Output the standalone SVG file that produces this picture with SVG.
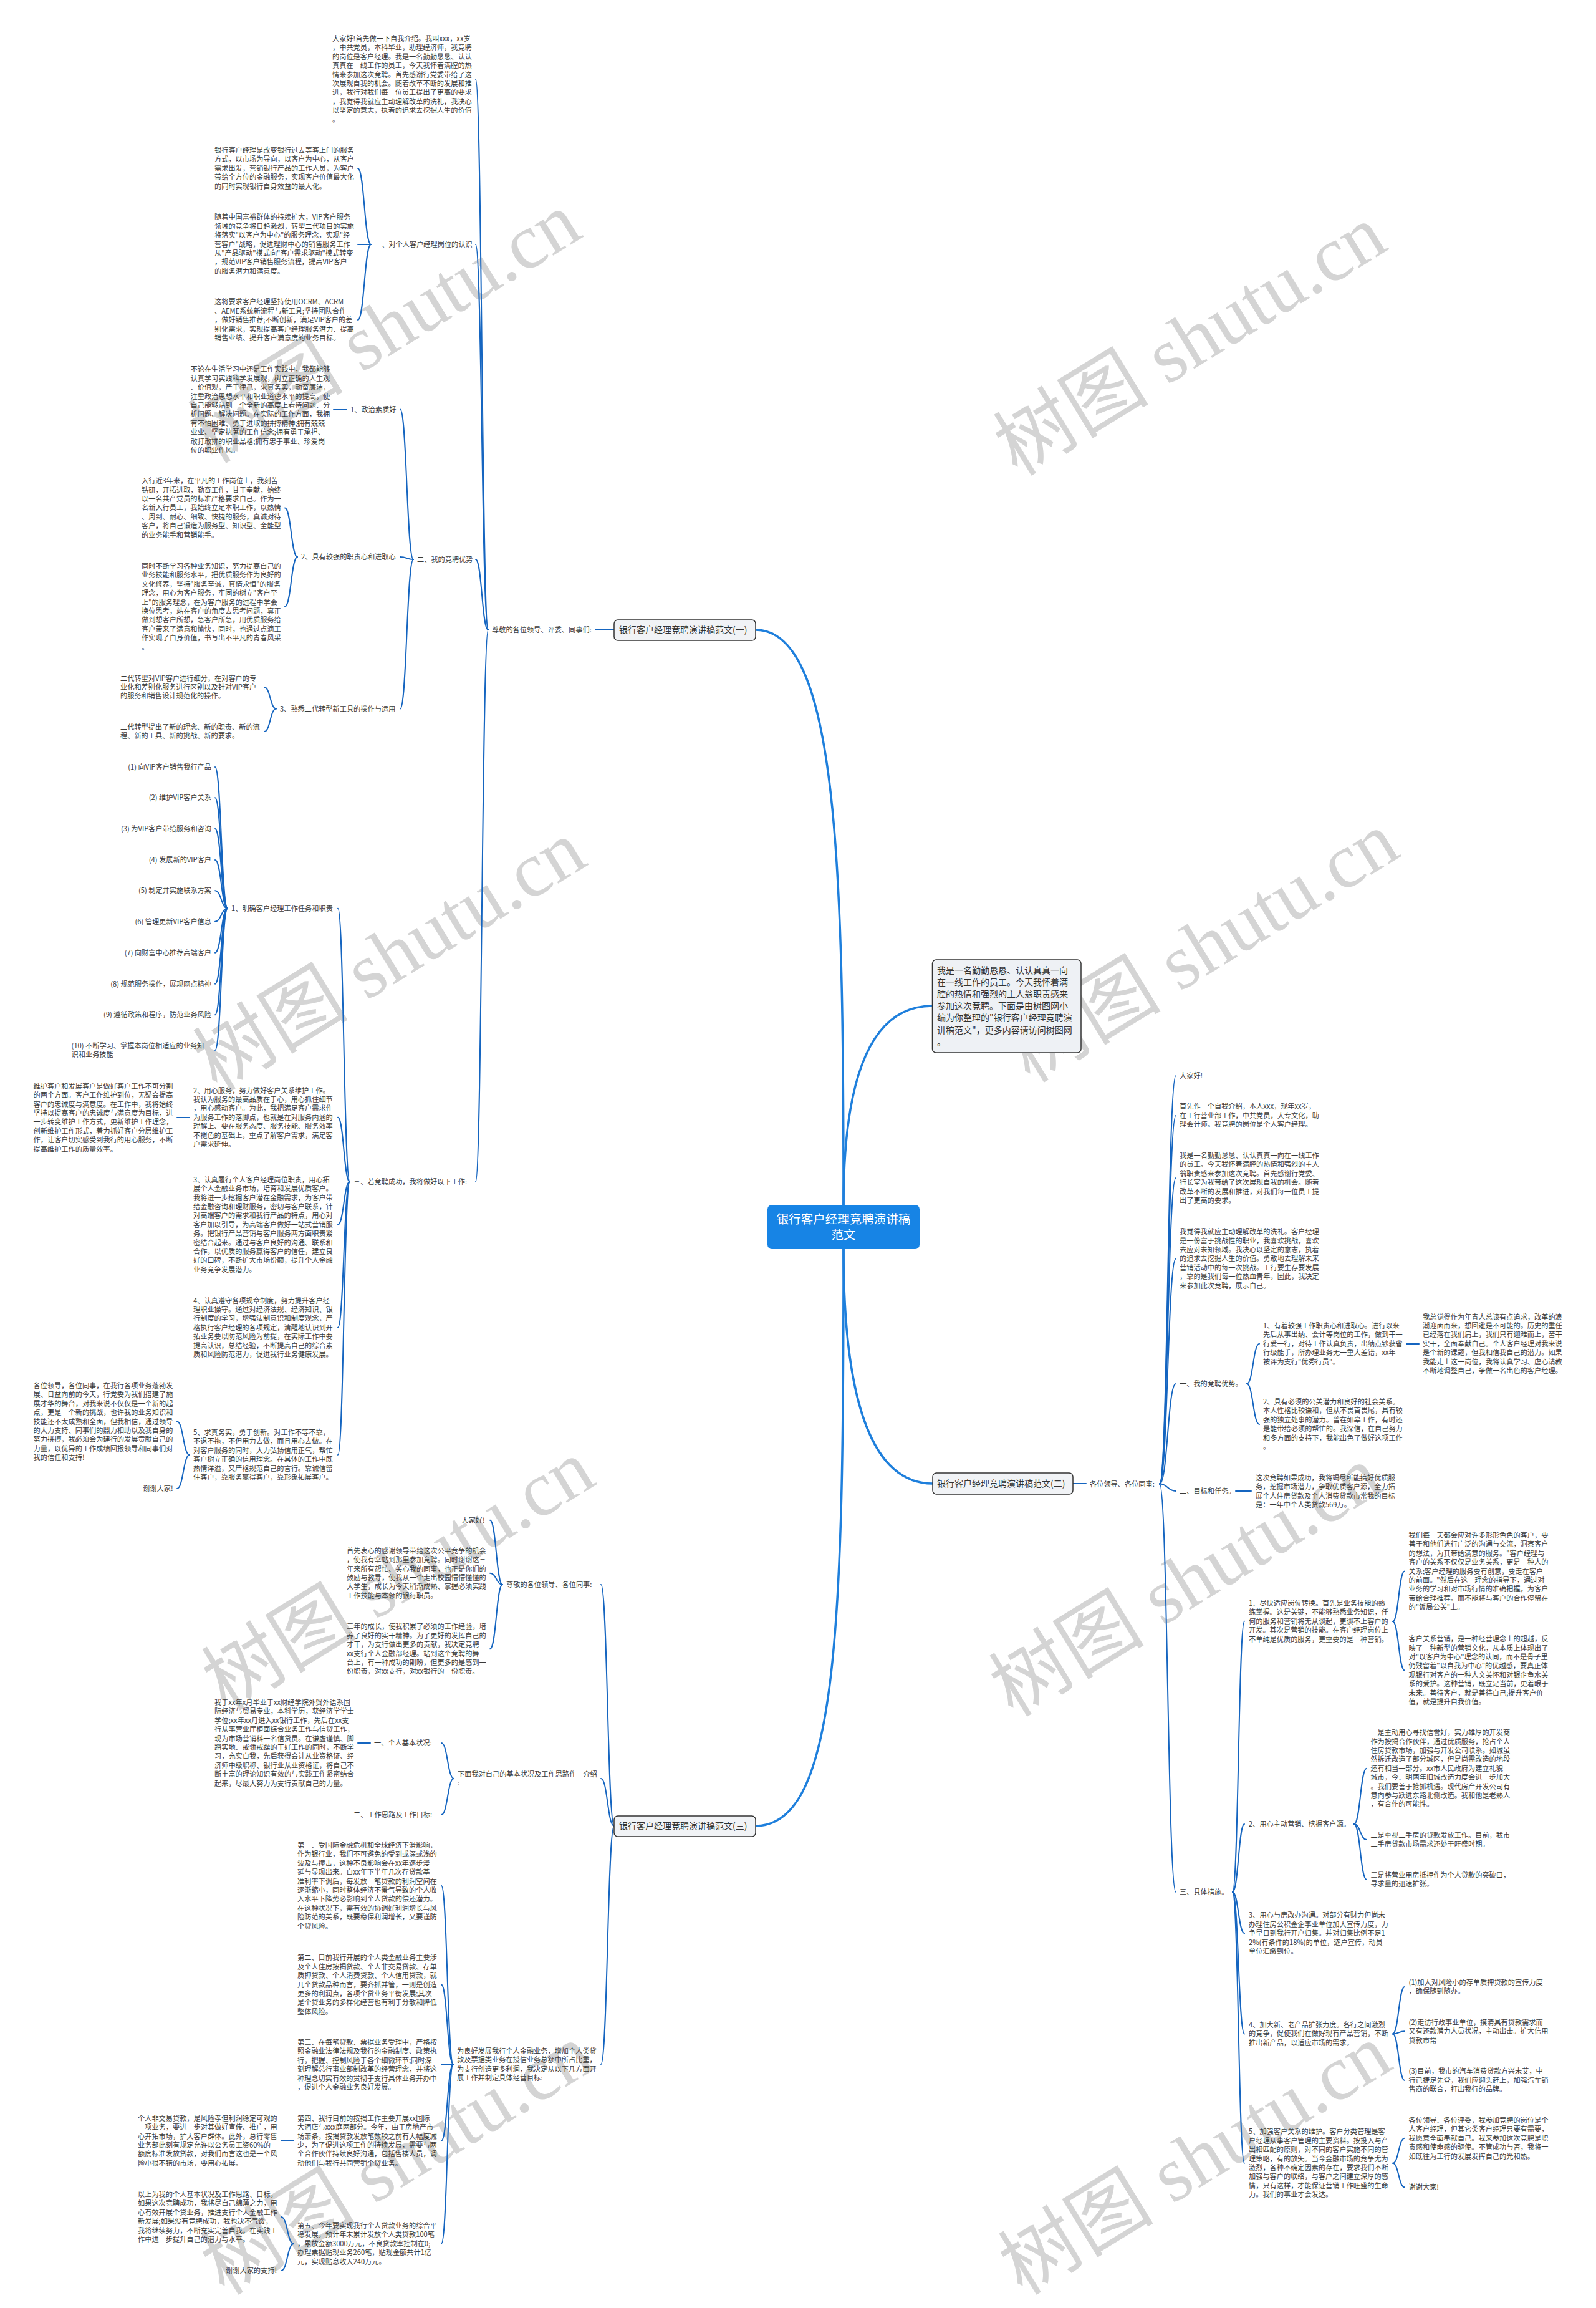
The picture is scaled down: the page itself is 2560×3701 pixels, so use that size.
<svg xmlns="http://www.w3.org/2000/svg" width="2560" height="3701" viewBox="0 0 2560 3701">
<style>
.t{font-family:"Noto Sans CJK SC","Noto Sans",sans-serif;font-size:11.2px;fill:#3a3a3a}
.e{text-anchor:end}
.b{font-family:"Noto Sans CJK SC","Noto Sans",sans-serif;font-size:14px;fill:#333}
.box{fill:#f1f3f6;stroke:#333;stroke-width:1.5}
.c{fill:none;stroke:#1565c0;stroke-width:2;stroke-linecap:round}
.r{fill:none;stroke:#1e7fdc;stroke-width:3.5;stroke-linecap:round}
.wm{font-family:"Liberation Serif","Noto Sans CJK SC",serif;font-size:125px;fill:#d4d4d4}
</style>
<rect width="2560" height="3701" fill="#ffffff"/>
<g id="watermarks" class="wm">
<text transform="translate(340,745) rotate(-31.5)">树图 shutu.cn</text>
<text transform="translate(1632,765) rotate(-31.5)">树图 shutu.cn</text>
<text transform="translate(348,1752) rotate(-31.5)">树图 shutu.cn</text>
<text transform="translate(1652,1738) rotate(-31.5)">树图 shutu.cn</text>
<text transform="translate(362,2745) rotate(-31.5)">树图 shutu.cn</text>
<text transform="translate(1625,2755) rotate(-31.5)">树图 shutu.cn</text>
<text transform="translate(360,3682) rotate(-31.5)">树图 shutu.cn</text>
<text transform="translate(1640,3682) rotate(-31.5)">树图 shutu.cn</text>
</g>
<g id="connectors">
<path class="r" d="M1353,1932 C1353,1400 1345,1010 1212,1010"/>
<path class="r" d="M1353,1932 C1353,1720 1400,1613 1495,1613"/>
<path class="r" d="M1353,2003 C1353,2250 1400,2379 1496,2379"/>
<path class="r" d="M1353,2003 C1353,2600 1345,2928 1212,2928"/>
<path class="c" d="M985,1010 L955,1010"/>
<path class="c" d="M1721,2379 L1742,2379"/>
<path class="c" d="M783,1010 C773,1010 773,127 763,127"/>
<path class="c" d="M783,1010 C773,1010 773,392 763,392"/>
<path class="c" d="M783,1010 C773,1010 773,897 763,897"/>
<path class="c" d="M783,1010 C773,1010 773,1895 763,1895"/>
<path class="c" d="M595,392 C584.5,392 584.5,270 574,270"/>
<path class="c" d="M595,392 L574,392"/>
<path class="c" d="M595,392 C584.5,392 584.5,513 574,513"/>
<path class="c" d="M663,897 C652.5,897 652.5,656.5 642,656.5"/>
<path class="c" d="M663,897 C652.5,897 652.5,893 642,893"/>
<path class="c" d="M663,897 C652.5,897 652.5,1136.5 642,1136.5"/>
<path class="c" d="M556,657 L535,657"/>
<path class="c" d="M477,893 C467,893 467,814.4 457,814.4"/>
<path class="c" d="M477,893 C467,893 467,972.8 457,972.8"/>
<path class="c" d="M443,1136.5 C433.5,1136.5 433.5,1102 424,1102"/>
<path class="c" d="M443,1136.5 C433.5,1136.5 433.5,1173 424,1173"/>
<path class="c" d="M561,1895 C551.5,1895 551.5,1456.7 542,1456.7"/>
<path class="c" d="M561,1895 C551.5,1895 551.5,1791.7 542,1791.7"/>
<path class="c" d="M561,1895 C551.5,1895 551.5,1963.8 542,1963.8"/>
<path class="c" d="M561,1895 C551.5,1895 551.5,2128.7 542,2128.7"/>
<path class="c" d="M561,1895 C551.5,1895 551.5,2333 542,2333"/>
<path class="c" d="M365,1456.7 C355,1456.7 355,1230 345,1230"/>
<path class="c" d="M365,1456.7 C355,1456.7 355,1279.3 345,1279.3"/>
<path class="c" d="M365,1456.7 C355,1456.7 355,1329 345,1329"/>
<path class="c" d="M365,1456.7 C355,1456.7 355,1379 345,1379"/>
<path class="c" d="M365,1456.7 C355,1456.7 355,1428.3 345,1428.3"/>
<path class="c" d="M365,1456.7 C355,1456.7 355,1477.7 345,1477.7"/>
<path class="c" d="M365,1456.7 C355,1456.7 355,1527.7 345,1527.7"/>
<path class="c" d="M365,1456.7 C355,1456.7 355,1577.7 345,1577.7"/>
<path class="c" d="M365,1456.7 C355,1456.7 355,1627.3 345,1627.3"/>
<path class="c" d="M365,1456.7 C355,1456.7 355,1684 345,1684"/>
<path class="c" d="M304,1792 L284,1792"/>
<path class="c" d="M304,2333 C294,2333 294,2279.6 284,2279.6"/>
<path class="c" d="M304,2333 C294,2333 294,2387 284,2387"/>
<path class="c" d="M985,2928 C974.5,2928 974.5,2541 964,2541"/>
<path class="c" d="M985,2928 C974.5,2928 974.5,2852 964,2852"/>
<path class="c" d="M985,2928 C974.5,2928 974.5,3310 964,3310"/>
<path class="c" d="M806,2541 C796,2541 796,2437.7 786,2437.7"/>
<path class="c" d="M806,2541 C796,2541 796,2522.7 786,2522.7"/>
<path class="c" d="M806,2541 C796,2541 796,2644.3 786,2644.3"/>
<path class="c" d="M728,2852 C718,2852 718,2795 708,2795"/>
<path class="c" d="M728,2852 C718,2852 718,2910 708,2910"/>
<path class="c" d="M594,2795 L574,2795"/>
<path class="c" d="M727,3310 C717.5,3310 717.5,3023.8 708,3023.8"/>
<path class="c" d="M727,3310 C717.5,3310 717.5,3182.6 708,3182.6"/>
<path class="c" d="M727,3310 C717.5,3310 717.5,3311 708,3311"/>
<path class="c" d="M727,3310 C717.5,3310 717.5,3432.8 708,3432.8"/>
<path class="c" d="M727,3310 C717.5,3310 717.5,3597.7 708,3597.7"/>
<path class="c" d="M471,3433 L451,3433"/>
<path class="c" d="M471,3598 C461,3598 461,3555 451,3555"/>
<path class="c" d="M471,3598 C461,3598 461,3641 451,3641"/>
<path class="c" d="M1860,2379.6 C1873,2379.6 1873,1725 1886,1725"/>
<path class="c" d="M1860,2379.6 C1873,2379.6 1873,1789 1886,1789"/>
<path class="c" d="M1860,2379.6 C1873,2379.6 1873,1889 1886,1889"/>
<path class="c" d="M1860,2379.6 C1873,2379.6 1873,2018.4 1886,2018.4"/>
<path class="c" d="M1860,2379.6 C1873,2379.6 1873,2219 1886,2219"/>
<path class="c" d="M1860,2379.6 C1873,2379.6 1873,2391 1886,2391"/>
<path class="c" d="M1860,2379.6 C1873,2379.6 1873,3034 1886,3034"/>
<path class="c" d="M2000,2219 C2010,2219 2010,2154.8 2020,2154.8"/>
<path class="c" d="M2000,2219 C2010,2219 2010,2284 2020,2284"/>
<path class="c" d="M2256,2155 L2276,2155"/>
<path class="c" d="M1982,2391 L2007,2391"/>
<path class="c" d="M1977,3034 C1986.5,3034 1986.5,2599.8 1996,2599.8"/>
<path class="c" d="M1977,3034 C1986.5,3034 1986.5,2925 1996,2925"/>
<path class="c" d="M1977,3034 C1986.5,3034 1986.5,3100.2 1996,3100.2"/>
<path class="c" d="M1977,3034 C1986.5,3034 1986.5,3261.4 1996,3261.4"/>
<path class="c" d="M1977,3034 C1986.5,3034 1986.5,3468.8 1996,3468.8"/>
<path class="c" d="M2234,2600 C2243.5,2600 2243.5,2519.6 2253,2519.6"/>
<path class="c" d="M2234,2600 C2243.5,2600 2243.5,2678.6 2253,2678.6"/>
<path class="c" d="M2172,2925 C2182,2925 2182,2835.8 2192,2835.8"/>
<path class="c" d="M2172,2925 C2182,2925 2182,2950 2192,2950"/>
<path class="c" d="M2172,2925 C2182,2925 2182,3014 2192,3014"/>
<path class="c" d="M2234,3261.4 C2243.5,3261.4 2243.5,3186 2253,3186"/>
<path class="c" d="M2234,3261.4 C2243.5,3261.4 2243.5,3257.3 2253,3257.3"/>
<path class="c" d="M2234,3261.4 C2243.5,3261.4 2243.5,3336 2253,3336"/>
<path class="c" d="M2234,3468.8 C2243.5,3468.8 2243.5,3428.8 2253,3428.8"/>
<path class="c" d="M2234,3468.8 C2243.5,3468.8 2243.5,3507.3 2253,3507.3"/>
</g>

<g id="root">
<rect x="1231" y="1932" width="244" height="71" rx="7" fill="#1784e5"/>
<text x="1353" y="1962" text-anchor="middle" font-family="Noto Sans CJK SC, sans-serif" font-size="19.5" fill="#fff">银行客户经理竞聘演讲稿</text>
<text x="1353" y="1987" text-anchor="middle" font-family="Noto Sans CJK SC, sans-serif" font-size="19.5" fill="#fff">范文</text>
</g>

<g id="intro">
<rect x="1495.5" y="1539" width="238.5" height="149" rx="6" fill="#eef1f5" stroke="#333" stroke-width="1.5"/>
<text class="b" font-size="14.3" x="1503" y="1561"><tspan x="1503">我是一名勤勤恳恳、认认真真一向</tspan><tspan x="1503" dy="19.1">在一线工作的员工。今天我怀着满</tspan><tspan x="1503" dy="19.1">腔的热情和强烈的主人翁职责感来</tspan><tspan x="1503" dy="19.1">参加这次竞聘。下面是由树图网小</tspan><tspan x="1503" dy="19.1">编为你整理的"银行客户经理竞聘演</tspan><tspan x="1503" dy="19.1">讲稿范文"，更多内容请访问树图网</tspan><tspan x="1503" dy="19.1">。</tspan></text>
</g>

<g id="branch1">
<rect class="box" x="985" y="994" width="227" height="33" rx="6"/>
<text class="b" x="993" y="1015">银行客户经理竞聘演讲稿范文(一)</text>
</g>
<g id="branch2">
<rect class="box" x="1496" y="2362" width="225" height="34" rx="6"/>
<text class="b" x="1503" y="2384">银行客户经理竞聘演讲稿范文(二)</text>
</g>
<g id="branch3">
<rect class="box" x="985" y="2912" width="227" height="33" rx="6"/>
<text class="b" x="993" y="2933">银行客户经理竞聘演讲稿范文(三)</text>
</g>

<g id="b1-greet"><text class="t" x="789" y="1014">尊敬的各位领导、评委、同事们:</text></g>
<g id="b1-intro"><text class="t" x="533" y="66"><tspan x="533">大家好!首先做一下自我介绍。我叫xxx，xx岁</tspan><tspan x="533" dy="14.4">，中共党员，本科毕业，助理经济师，我竞聘</tspan><tspan x="533" dy="14.4">的岗位是客户经理。我是一名勤勤恳恳、认认</tspan><tspan x="533" dy="14.4">真真在一线工作的员工，今天我怀着满腔的热</tspan><tspan x="533" dy="14.4">情来参加这次竞聘。首先感谢行党委带给了这</tspan><tspan x="533" dy="14.4">次展现自我的机会。随着改革不断的发展和推</tspan><tspan x="533" dy="14.4">进，我行对我们每一位员工提出了更高的要求</tspan><tspan x="533" dy="14.4">，我觉得我就应主动理解改革的洗礼，我决心</tspan><tspan x="533" dy="14.4">以坚定的意志，执着的追求去挖掘人生的价值</tspan><tspan x="533" dy="14.4">。</tspan></text></g>
<g id="b1-s1"><text class="t" x="601" y="396">一、对个人客户经理岗位的认识</text></g>
<g id="b1-s1a"><text class="t" x="344" y="245"><tspan x="344">银行客户经理是改变银行过去等客上门的服务</tspan><tspan x="344" dy="14.4">方式，以市场为导向，以客户为中心，从客户</tspan><tspan x="344" dy="14.4">需求出发，营销银行产品的工作人员，为客户</tspan><tspan x="344" dy="14.4">带给全方位的金融服务，实现客户价值最大化</tspan><tspan x="344" dy="14.4">的同时实现银行自身效益的最大化。</tspan></text></g>
<g id="b1-s1b"><text class="t" x="344" y="352.3"><tspan x="344">随着中国富裕群体的持续扩大，VIP客户服务</tspan><tspan x="344" dy="14.4">领域的竞争将日趋激烈，转型二代项目的实施</tspan><tspan x="344" dy="14.4">将落实"以客户为中心"的服务理念，实现"经</tspan><tspan x="344" dy="14.4">营客户"战略，促进理财中心的销售服务工作</tspan><tspan x="344" dy="14.4">从"产品驱动"模式向"客户需求驱动"模式转变</tspan><tspan x="344" dy="14.4">，规范VIP客户销售服务流程，提高VIP客户</tspan><tspan x="344" dy="14.4">的服务潜力和满意度。</tspan></text></g>
<g id="b1-s1c"><text class="t" x="344" y="488.3"><tspan x="344">这将要求客户经理坚持使用OCRM、ACRM</tspan><tspan x="344" dy="14.4">、AEME系统新流程与新工具;坚持团队合作</tspan><tspan x="344" dy="14.4">，做好销售推荐;不断创新，满足VIP客户的差</tspan><tspan x="344" dy="14.4">别化需求，实现提高客户经理服务潜力、提高</tspan><tspan x="344" dy="14.4">销售业绩、提升客户满意度的业务目标。</tspan></text></g>
<g id="b1-s2"><text class="t" x="669" y="901">二、我的竞聘优势</text></g>
<g id="b1-s2-1"><text class="t" x="562" y="660.5">1、政治素质好</text></g>
<g id="b1-s2-1a"><text class="t" x="305.5" y="596.4"><tspan x="305.5">不论在生活学习中还是工作实践中，我都能够</tspan><tspan x="305.5" dy="14.4">认真学习实践科学发展观，树立正确的人生观</tspan><tspan x="305.5" dy="14.4">、价值观，严于律己，求真务实，勤奋廉洁，</tspan><tspan x="305.5" dy="14.4">注重政治思想水平和职业道德水平的提高，使</tspan><tspan x="305.5" dy="14.4">自己能够站到一个全新的高度上看待问题、分</tspan><tspan x="305.5" dy="14.4">析问题、解决问题。在实际的工作方面，我拥</tspan><tspan x="305.5" dy="14.4">有不怕困难、勇于进取的拼搏精神;拥有兢兢</tspan><tspan x="305.5" dy="14.4">业业、坚定执著的工作信念;拥有勇于承担、</tspan><tspan x="305.5" dy="14.4">敢打敢拼的职业品格;拥有忠于事业、珍爱岗</tspan><tspan x="305.5" dy="14.4">位的职业作风。</tspan></text></g>
<g id="b1-s2-2"><text class="t" x="483" y="897">2、具有较强的职责心和进取心</text></g>
<g id="b1-s2-2a"><text class="t" x="227" y="775.2"><tspan x="227">入行近3年来，在平凡的工作岗位上，我刻苦</tspan><tspan x="227" dy="14.4">钻研，开拓进取，勤奋工作，甘于奉献，始终</tspan><tspan x="227" dy="14.4">以一名共产党员的标准严格要求自己。作为一</tspan><tspan x="227" dy="14.4">名新入行员工，我始终立足本职工作，以热情</tspan><tspan x="227" dy="14.4">、周到、耐心、细致、快捷的服务，真诚对待</tspan><tspan x="227" dy="14.4">客户，将自己锻造为服务型、知识型、全能型</tspan><tspan x="227" dy="14.4">的业务能手和营销能手。</tspan></text></g>
<g id="b1-s2-2b"><text class="t" x="227" y="912"><tspan x="227">同时不断学习各种业务知识，努力提高自己的</tspan><tspan x="227" dy="14.4">业务技能和服务水平，把优质服务作为良好的</tspan><tspan x="227" dy="14.4">文化修养，坚持"服务至诚，真情永恒"的服务</tspan><tspan x="227" dy="14.4">理念，用心为客户服务，牢固的树立"客户至</tspan><tspan x="227" dy="14.4">上"的服务理念，在为客户服务的过程中学会</tspan><tspan x="227" dy="14.4">换位思考，站在客户的角度去思考问题，真正</tspan><tspan x="227" dy="14.4">做到想客户所想，急客户所急，用优质服务给</tspan><tspan x="227" dy="14.4">客户带来了满意和愉快，同时，也通过点滴工</tspan><tspan x="227" dy="14.4">作实现了自身价值，书写出不平凡的青春风采</tspan><tspan x="227" dy="14.4">。</tspan></text></g>
<g id="b1-s2-3"><text class="t" x="449" y="1140.5">3、熟悉二代转型新工具的操作与运用</text></g>
<g id="b1-s2-3a"><text class="t" x="193" y="1091.6"><tspan x="193">二代转型对VIP客户进行细分，在对客户的专</tspan><tspan x="193" dy="14.4">业化和差别化服务进行区别以及针对VIP客户</tspan><tspan x="193" dy="14.4">的服务和销售设计规范化的操作。</tspan></text></g>
<g id="b1-s2-3b"><text class="t" x="193" y="1170"><tspan x="193">二代转型提出了新的理念、新的职责、新的流</tspan><tspan x="193" dy="14.4">程、新的工具、新的挑战、新的要求。</tspan></text></g>
<g id="b1-s3"><text class="t" x="567" y="1899">三、若竞聘成功，我将做好以下工作:</text></g>
<g id="b1-s3-1"><text class="t" x="371" y="1460.7">1、明确客户经理工作任务和职责</text></g>
<g id="b1-s3-1-items">
<text class="t e" x="339" y="1234">(1) 向VIP客户销售我行产品</text>
<text class="t e" x="339" y="1283.3">(2) 维护VIP客户关系</text>
<text class="t e" x="339" y="1333">(3) 为VIP客户带给服务和咨询</text>
<text class="t e" x="339" y="1383">(4) 发展新的VIP客户</text>
<text class="t e" x="339" y="1432.3">(5) 制定并实施联系方案</text>
<text class="t e" x="339" y="1481.7">(6) 管理更新VIP客户信息</text>
<text class="t e" x="339" y="1531.7">(7) 向财富中心推荐高端客户</text>
<text class="t e" x="339" y="1581.7">(8) 规范服务操作，展现网点精神</text>
<text class="t e" x="339" y="1631.3">(9) 遵循政策和程序，防范业务风险</text>
<text class="t" x="114.6" y="1681"><tspan x="114.6">(10) 不断学习、掌握本岗位相适应的业务知</tspan><tspan x="114.6" dy="14.4">识和业务技能</tspan></text>
</g>
<g id="b1-s3-2"><text class="t" x="310" y="1752.5"><tspan x="310">2、用心服务，努力做好客户关系维护工作。</tspan><tspan x="310" dy="14.4">我认为服务的最高品质在于心，用心抓住细节</tspan><tspan x="310" dy="14.4">，用心感动客户。为此，我把满足客户需求作</tspan><tspan x="310" dy="14.4">为服务工作的落脚点，也就是在对服务内涵的</tspan><tspan x="310" dy="14.4">理解上、要在服务态度、服务技能、服务效率</tspan><tspan x="310" dy="14.4">不褪色的基础上，重点了解客户需求，满足客</tspan><tspan x="310" dy="14.4">户需求延伸。</tspan></text></g>
<g id="b1-s3-2a"><text class="t" x="53.6" y="1745.8"><tspan x="53.6">维护客户和发展客户是做好客户工作不可分割</tspan><tspan x="53.6" dy="14.4">的两个方面。客户工作维护到位，无疑会提高</tspan><tspan x="53.6" dy="14.4">客户的忠诚度与满意度。在工作中，我将始终</tspan><tspan x="53.6" dy="14.4">坚持以提高客户的忠诚度与满意度为目标，进</tspan><tspan x="53.6" dy="14.4">一步转变维护工作方式，更新维护工作理念，</tspan><tspan x="53.6" dy="14.4">创新维护工作形式，着力抓好客户分层维护工</tspan><tspan x="53.6" dy="14.4">作，让客户切实感受到我行的用心服务，不断</tspan><tspan x="53.6" dy="14.4">提高维护工作的质量效率。</tspan></text></g>
<g id="b1-s3-3"><text class="t" x="310" y="1895.8"><tspan x="310">3、认真履行个人客户经理岗位职责，用心拓</tspan><tspan x="310" dy="14.4">展个人金融业务市场，培育和发展优质客户。</tspan><tspan x="310" dy="14.4">我将进一步挖掘客户潜在金融需求，为客户带</tspan><tspan x="310" dy="14.4">给金融咨询和理财服务，密切与客户联系，针</tspan><tspan x="310" dy="14.4">对高端客户的需求和我行产品的特点，用心对</tspan><tspan x="310" dy="14.4">客户加以引导，为高端客户做好一站式营销服</tspan><tspan x="310" dy="14.4">务。把银行产品营销与客户服务两方面职责紧</tspan><tspan x="310" dy="14.4">密结合起来。通过与客户良好的沟通、联系和</tspan><tspan x="310" dy="14.4">合作，以优质的服务赢得客户的信任，建立良</tspan><tspan x="310" dy="14.4">好的口碑，不断扩大市场份额，提升个人金融</tspan><tspan x="310" dy="14.4">业务竞争发展潜力。</tspan></text></g>
<g id="b1-s3-4"><text class="t" x="310" y="2089.5"><tspan x="310">4、认真遵守各项规章制度，努力提升客户经</tspan><tspan x="310" dy="14.4">理职业操守。通过对经济法规、经济知识、银</tspan><tspan x="310" dy="14.4">行制度的学习，增强法制意识和制度观念，严</tspan><tspan x="310" dy="14.4">格执行客户经理的各项规定，清醒地认识到开</tspan><tspan x="310" dy="14.4">拓业务要以防范风险为前提，在实际工作中要</tspan><tspan x="310" dy="14.4">提高认识，总结经验，不断提高自己的综合素</tspan><tspan x="310" dy="14.4">质和风险防范潜力，促进我行业务健康发展。</tspan></text></g>
<g id="b1-s3-5"><text class="t" x="310" y="2301"><tspan x="310">5、求真务实，勇于创新。对工作不等不靠，</tspan><tspan x="310" dy="14.4">不退不拖，不但用力去做，而且用心去做。在</tspan><tspan x="310" dy="14.4">对客户服务的同时，大力弘扬信用正气，帮忙</tspan><tspan x="310" dy="14.4">客户树立正确的信用理念。在具体的工作中既</tspan><tspan x="310" dy="14.4">热情洋溢，又严格规范自己的言行。靠诚信留</tspan><tspan x="310" dy="14.4">住客户，靠服务赢得客户，靠形象拓展客户。</tspan></text></g>
<g id="b1-s3-5a"><text class="t" x="53.6" y="2226"><tspan x="53.6">各位领导，各位同事，在我行各项业务蓬勃发</tspan><tspan x="53.6" dy="14.4">展、日益向前的今天，行党委为我们搭建了施</tspan><tspan x="53.6" dy="14.4">展才华的舞台，对我来说不仅仅是一个新的起</tspan><tspan x="53.6" dy="14.4">点，更是一个新的挑战，也许我的业务知识和</tspan><tspan x="53.6" dy="14.4">技能还不太成熟和全面，但我相信，通过领导</tspan><tspan x="53.6" dy="14.4">的大力支持、同事们的鼎力相助以及我自身的</tspan><tspan x="53.6" dy="14.4">努力拼搏，我必须会为建行的发展贡献自己的</tspan><tspan x="53.6" dy="14.4">力量，以优异的工作成绩回报领导和同事们对</tspan><tspan x="53.6" dy="14.4">我的信任和支持!</tspan></text></g>
<g id="b1-s3-5b"><text class="t e" x="277.5" y="2391">谢谢大家!</text></g>

<g id="b3-greet"><text class="t" x="812" y="2545">尊敬的各位领导、各位同事:</text></g>
<g id="b3-g1"><text class="t e" x="777.5" y="2441.7">大家好!</text></g>
<g id="b3-g2"><text class="t" x="556" y="2490.7"><tspan x="556">首先衷心的感谢领导带给这次公平竞争的机会</tspan><tspan x="556" dy="14.4">，使我有幸站到那里参加竞聘。同时谢谢这三</tspan><tspan x="556" dy="14.4">年来所有帮忙、关心我的同事，也正是你们的</tspan><tspan x="556" dy="14.4">鼓励与教导，使我从一个走出校园懵懵懂懂的</tspan><tspan x="556" dy="14.4">大学生，成长为今天稍渐成熟、掌握必须实践</tspan><tspan x="556" dy="14.4">工作技能与本领的银行职员。</tspan></text></g>
<g id="b3-g3"><text class="t" x="556" y="2612.3"><tspan x="556">三年的成长，使我积累了必须的工作经验，培</tspan><tspan x="556" dy="14.4">养了良好的实干精神。为了更好的发挥自己的</tspan><tspan x="556" dy="14.4">才干，为支行做出更多的贡献，我决定竞聘</tspan><tspan x="556" dy="14.4">xx支行个人金融部经理。站到这个竞聘的舞</tspan><tspan x="556" dy="14.4">台上，有一种成功的期盼，但更多的是感到一</tspan><tspan x="556" dy="14.4">份职责，对xx支行，对xx银行的一份职责。</tspan></text></g>
<g id="b3-intro"><text class="t" x="734" y="2849"><tspan x="734">下面我对自己的基本状况及工作思路作一介绍</tspan><tspan x="734" dy="14.4">:</tspan></text></g>
<g id="b3-i1"><text class="t" x="600" y="2799">一、个人基本状况:</text></g>
<g id="b3-i1a"><text class="t" x="344" y="2734"><tspan x="344">我于xx年x月毕业于xx财经学院外贸外语系国</tspan><tspan x="344" dy="14.4">际经济与贸易专业，本科学历，获经济学学士</tspan><tspan x="344" dy="14.4">学位;xx年xx月进入xx银行工作，先后在xx支</tspan><tspan x="344" dy="14.4">行从事营业厅柜面综合业务工作与信贷工作，</tspan><tspan x="344" dy="14.4">现为市场营销科一名信贷员。在谦虚谨慎、脚</tspan><tspan x="344" dy="14.4">踏实地、戒骄戒躁的干好工作的同时，不断学</tspan><tspan x="344" dy="14.4">习，充实自我，先后获得会计从业资格证、经</tspan><tspan x="344" dy="14.4">济师中级职称、银行业从业资格证，将自己不</tspan><tspan x="344" dy="14.4">断丰富的理论知识有效的与实践工作紧密结合</tspan><tspan x="344" dy="14.4">起来，尽最大努力为支行贡献自己的力量。</tspan></text></g>
<g id="b3-i2"><text class="t" x="567" y="2914">二、工作思路及工作目标:</text></g>
<g id="b3-plan"><text class="t" x="733" y="3292.7"><tspan x="733">为良好发展我行个人金融业务，增加个人类贷</tspan><tspan x="733" dy="14.4">款及票据类业务在授信业务总额中所占比重，</tspan><tspan x="733" dy="14.4">为支行创造更多利润，我决定从以下几方面开</tspan><tspan x="733" dy="14.4">展工作并制定具体经营目标:</tspan></text></g>
<g id="b3-p1"><text class="t" x="477" y="2963"><tspan x="477">第一、受国际金融危机和全球经济下滑影响，</tspan><tspan x="477" dy="14.4">作为银行业，我们不可避免的受到或深或浅的</tspan><tspan x="477" dy="14.4">波及与撞击，这种不良影响会在xx年逐步漫</tspan><tspan x="477" dy="14.4">延与显现出来。自xx年下半年几次存贷款基</tspan><tspan x="477" dy="14.4">准利率下调后，每发放一笔贷款的利润空间在</tspan><tspan x="477" dy="14.4">逐渐缩小，同时整体经济不景气导致的个人收</tspan><tspan x="477" dy="14.4">入水平下降势必影响到个人贷款的偿还潜力。</tspan><tspan x="477" dy="14.4">在这种状况下，需有效的协调好利润增长与风</tspan><tspan x="477" dy="14.4">险防范的关系，既要稳保利润增长，又要谨防</tspan><tspan x="477" dy="14.4">个贷风险。</tspan></text></g>
<g id="b3-p2"><text class="t" x="477" y="3143.4"><tspan x="477">第二、目前我行开展的个人类金融业务主要涉</tspan><tspan x="477" dy="14.4">及个人住房按揭贷款、个人非交易贷款、存单</tspan><tspan x="477" dy="14.4">质押贷款、个人消费贷款、个人信用贷款，就</tspan><tspan x="477" dy="14.4">几个贷款品种而言，要齐抓并管，一则是创造</tspan><tspan x="477" dy="14.4">更多的利润点，各项个贷业务平衡发展;其次</tspan><tspan x="477" dy="14.4">是个贷业务的多样化经营也有利于分散和降低</tspan><tspan x="477" dy="14.4">整体风险。</tspan></text></g>
<g id="b3-p3"><text class="t" x="477" y="3279"><tspan x="477">第三、在每笔贷款、票据业务受理中，严格按</tspan><tspan x="477" dy="14.4">照金融业法律法规及我行的金融制度、政策执</tspan><tspan x="477" dy="14.4">行，把握、控制风险于各个细微环节;同时深</tspan><tspan x="477" dy="14.4">刻理解总行事业部制改革的经营理念，并将这</tspan><tspan x="477" dy="14.4">种理念切实有效的贯彻于支行具体业务开办中</tspan><tspan x="477" dy="14.4">，促进个人金融业务良好发展。</tspan></text></g>
<g id="b3-p4"><text class="t" x="477" y="3400.8"><tspan x="477">第四、我行目前的按揭工作主要开展xx国际</tspan><tspan x="477" dy="14.4">大酒店与xxx庭两部分。今年，由于房地产市</tspan><tspan x="477" dy="14.4">场萧条，按揭贷款发放笔数较之前有大幅度减</tspan><tspan x="477" dy="14.4">少，为了促进这项工作的持续发展，需要与两</tspan><tspan x="477" dy="14.4">个合作伙伴持续良好沟通，包括售楼人员，调</tspan><tspan x="477" dy="14.4">动他们与我行共同营销个贷业务。</tspan></text></g>
<g id="b3-p4a"><text class="t" x="221" y="3400.8"><tspan x="221">个人非交易贷款，是风险孝但利润稳定可观的</tspan><tspan x="221" dy="14.4">一项业务，要进一步对其做好宣传、推广，用</tspan><tspan x="221" dy="14.4">心开拓市场，扩大客户群体。此外，总行零售</tspan><tspan x="221" dy="14.4">业务部此刻有规定允许以公务员工资60%的</tspan><tspan x="221" dy="14.4">额度标准发放贷款，对我们而言这也是一个风</tspan><tspan x="221" dy="14.4">险小很不错的市场，要用心拓展。</tspan></text></g>
<g id="b3-p5"><text class="t" x="477" y="3572.9"><tspan x="477">第五、今年要实现我行个人贷款业务的综合平</tspan><tspan x="477" dy="14.4">稳发展，预计年末累计发放个人类贷款100笔</tspan><tspan x="477" dy="14.4">，累放金额3000万元，不良贷款率控制在0;</tspan><tspan x="477" dy="14.4">办理票据贴现业务260笔，贴现金额共计1亿</tspan><tspan x="477" dy="14.4">元，实现贴息收入240万元。</tspan></text></g>
<g id="b3-p5a"><text class="t" x="221" y="3523"><tspan x="221">以上为我的个人基本状况及工作思路、目标，</tspan><tspan x="221" dy="14.4">如果这次竞聘成功，我将尽自己绵薄之力，用</tspan><tspan x="221" dy="14.4">心有效开展个贷业务，推进支行个人金融工作</tspan><tspan x="221" dy="14.4">新发展;如果没有竞聘成功，我也决不气馁，</tspan><tspan x="221" dy="14.4">我将继续努力，不断充实完善自我，在实践工</tspan><tspan x="221" dy="14.4">作中进一步提升自己的潜力与水平。</tspan></text></g>
<g id="b3-p5b"><text class="t e" x="444" y="3645">谢谢大家的支持!</text></g>

<g id="b2-greet"><text class="t" x="1748" y="2383.6">各位领导、各位同事:</text></g>
<g id="b2-g1"><text class="t" x="1892" y="1729">大家好!</text></g>
<g id="b2-g2"><text class="t" x="1892" y="1778.4"><tspan x="1892">首先作一个自我介绍，本人xxx，现年xx岁，</tspan><tspan x="1892" dy="14.4">在工行营业部工作，中共党员，大专文化，助</tspan><tspan x="1892" dy="14.4">理会计师。我竞聘的岗位是个人客户经理。</tspan></text></g>
<g id="b2-g3"><text class="t" x="1892" y="1857"><tspan x="1892">我是一名勤勤恳恳、认认真真一向在一线工作</tspan><tspan x="1892" dy="14.4">的员工。今天我怀着满腔的热情和强烈的主人</tspan><tspan x="1892" dy="14.4">翁职责感来参加这次竞聘。首先感谢行党委、</tspan><tspan x="1892" dy="14.4">行长室为我带给了这次展现自我的机会。随着</tspan><tspan x="1892" dy="14.4">改革不断的发展和推进，对我们每一位员工提</tspan><tspan x="1892" dy="14.4">出了更高的要求。</tspan></text></g>
<g id="b2-g4"><text class="t" x="1892" y="1979.2"><tspan x="1892">我觉得我就应主动理解改革的洗礼。客户经理</tspan><tspan x="1892" dy="14.4">是一份富于挑战性的职业，我喜欢挑战，喜欢</tspan><tspan x="1892" dy="14.4">去应对未知领域。我决心以坚定的意志，执着</tspan><tspan x="1892" dy="14.4">的追求去挖掘人生的价值。勇敢地去理解未来</tspan><tspan x="1892" dy="14.4">营销活动中的每一次挑战。工行要生存要发展</tspan><tspan x="1892" dy="14.4">，靠的是我们每一位热血青年，因此，我决定</tspan><tspan x="1892" dy="14.4">来参加此次竞聘，展示自己。</tspan></text></g>
<g id="b2-s1"><text class="t" x="1892" y="2223">一、我的竞聘优势。</text></g>
<g id="b2-s1a"><text class="t" x="2026" y="2130"><tspan x="2026">1、有着较强工作职责心和进取心。进行以来</tspan><tspan x="2026" dy="14.4">先后从事出纳、会计等岗位的工作，做到干一</tspan><tspan x="2026" dy="14.4">行爱一行，对待工作认真负责，出纳点钞获省</tspan><tspan x="2026" dy="14.4">行级能手，所办理业务无一重大差错，xx年</tspan><tspan x="2026" dy="14.4">被评为支行"优秀行员"。</tspan></text></g>
<g id="b2-s1a1"><text class="t" x="2282" y="2115.6"><tspan x="2282">我总觉得作为年青人总该有点追求，改革的浪</tspan><tspan x="2282" dy="14.4">潮迎面而来，想回避是不可能的。历史的重任</tspan><tspan x="2282" dy="14.4">已经落在我们肩上，我们只有迎难而上，苦干</tspan><tspan x="2282" dy="14.4">实干，全面奉献自己。个人客户经理对我来说</tspan><tspan x="2282" dy="14.4">是个新的课题，但我相信我自己的潜力。如果</tspan><tspan x="2282" dy="14.4">我能走上这一岗位，我将认真学习、虚心请教</tspan><tspan x="2282" dy="14.4">不断地调整自己，争做一名出色的客户经理。</tspan></text></g>
<g id="b2-s1b"><text class="t" x="2026" y="2252"><tspan x="2026">2、具有必须的公关潜力和良好的社会关系。</tspan><tspan x="2026" dy="14.4">本人性格比较谦和，但从不畏首畏尾，具有较</tspan><tspan x="2026" dy="14.4">强的独立处事的潜力。曾在如皋工作，有时还</tspan><tspan x="2026" dy="14.4">是能带给必须的帮忙的。我深信，在自己努力</tspan><tspan x="2026" dy="14.4">和多方面的支持下，我能出色了做好这项工作</tspan><tspan x="2026" dy="14.4">。</tspan></text></g>
<g id="b2-s2"><text class="t" x="1892" y="2395">二、目标和任务。</text></g>
<g id="b2-s2a"><text class="t" x="2014" y="2374"><tspan x="2014">这次竞聘如果成功，我将竭尽所能搞好优质服</tspan><tspan x="2014" dy="14.4">务，挖掘市场潜力，争取优质客户源，全力拓</tspan><tspan x="2014" dy="14.4">展个人住房贷款及个人消费贷款市常我的目标</tspan><tspan x="2014" dy="14.4">是：一年中个人类贷款569万。</tspan></text></g>
<g id="b2-s3"><text class="t" x="1892" y="3038">三、具体措施。</text></g>
<g id="b2-s3-1"><text class="t" x="2003" y="2575"><tspan x="2003">1、尽快适应岗位转换。首先是业务技能的熟</tspan><tspan x="2003" dy="14.4">练掌握。这是关键，不能够熟悉业务知识，任</tspan><tspan x="2003" dy="14.4">何的服务和营销将无从谈起，更谈不上客户的</tspan><tspan x="2003" dy="14.4">开发。其次是营销的技能。在客户经理岗位上</tspan><tspan x="2003" dy="14.4">不单纯是优质的服务，更重要的是一种营销。</tspan></text></g>
<g id="b2-s3-1a"><text class="t" x="2259.6" y="2466"><tspan x="2259.6">我们每一天都会应对许多形形色色的客户，要</tspan><tspan x="2259.6" dy="14.4">善于和他们进行广泛的沟通与交流，洞察客户</tspan><tspan x="2259.6" dy="14.4">的想法，为其带给满意的服务。"客户经理与</tspan><tspan x="2259.6" dy="14.4">客户的关系不仅仅是业务关系，更是一种人的</tspan><tspan x="2259.6" dy="14.4">关系;客户经理的服务要有创意，要走在客户</tspan><tspan x="2259.6" dy="14.4">的前面。"然后在这一理念的指导下，通过对</tspan><tspan x="2259.6" dy="14.4">业务的学习和对市场行情的准确把握，为客户</tspan><tspan x="2259.6" dy="14.4">带给合理推荐。而不能将与客户的合作停留在</tspan><tspan x="2259.6" dy="14.4">的"饭局公关"上。</tspan></text></g>
<g id="b2-s3-1b"><text class="t" x="2259.6" y="2632.2"><tspan x="2259.6">客户关系营销，是一种经营理念上的超越，反</tspan><tspan x="2259.6" dy="14.4">映了一种新型的营销文化，从本质上体现出了</tspan><tspan x="2259.6" dy="14.4">对"以客户为中心"理念的认同，而不是骨子里</tspan><tspan x="2259.6" dy="14.4">仍残留着"以自我为中心"的优越感，要真正体</tspan><tspan x="2259.6" dy="14.4">现银行对客户的一种人文关怀和对银企鱼水关</tspan><tspan x="2259.6" dy="14.4">系的爱护。这种营销，既立足当前，更着眼于</tspan><tspan x="2259.6" dy="14.4">未来。善待客户，就是善待自己;提升客户价</tspan><tspan x="2259.6" dy="14.4">值，就是提升自我价值。</tspan></text></g>
<g id="b2-s3-2"><text class="t" x="2003" y="2929">2、用心主动营销、挖掘客户源。</text></g>
<g id="b2-s3-2a"><text class="t" x="2198.4" y="2782.2"><tspan x="2198.4">一是主动用心寻找信誉好，实力雄厚的开发商</tspan><tspan x="2198.4" dy="14.4">作为按揭合作伙伴，通过优质服务，抢占个人</tspan><tspan x="2198.4" dy="14.4">住房贷款市场，加强与开发公司联系。如城虽</tspan><tspan x="2198.4" dy="14.4">然拆迁改造了部分城区，但是尚需改造的地段</tspan><tspan x="2198.4" dy="14.4">还有相当一部分。xx市人民政府为建立礼貌</tspan><tspan x="2198.4" dy="14.4">城市，今、明两年旧城改造力度会进一步加大</tspan><tspan x="2198.4" dy="14.4">。我们要善于抢抓机遇。现代房产开发公司有</tspan><tspan x="2198.4" dy="14.4">意向参与跃进东路北侧改造。我和他是老熟人</tspan><tspan x="2198.4" dy="14.4">，有合作的可能性。</tspan></text></g>
<g id="b2-s3-2b"><text class="t" x="2198.4" y="2946.9"><tspan x="2198.4">二是重视二手房的贷款发放工作。目前，我市</tspan><tspan x="2198.4" dy="14.4">二手房贷款市场需求还处于旺盛时期。</tspan></text></g>
<g id="b2-s3-2c"><text class="t" x="2198.4" y="3011"><tspan x="2198.4">三是将营业用房抵押作为个人贷款的突破口，</tspan><tspan x="2198.4" dy="14.4">寻求量的迅速扩张。</tspan></text></g>
<g id="b2-s3-3"><text class="t" x="2003" y="3075.4"><tspan x="2003">3、用心与房改办沟通。对部分有财力但尚未</tspan><tspan x="2003" dy="14.4">办理住房公积金企事业单位加大宣传力度，力</tspan><tspan x="2003" dy="14.4">争早日到我行开户归集。并对归集比例不足1</tspan><tspan x="2003" dy="14.4">2%(有条件的18%)的单位，逐户宣传，动员</tspan><tspan x="2003" dy="14.4">单位汇缴到位。</tspan></text></g>
<g id="b2-s3-4"><text class="t" x="2003" y="3251"><tspan x="2003">4、加大新、老产品扩张力度。各行之间激烈</tspan><tspan x="2003" dy="14.4">的竞争，促使我们在做好现有产品营销，不断</tspan><tspan x="2003" dy="14.4">推出新产品，以适应市场的需求。</tspan></text></g>
<g id="b2-s3-4a"><text class="t" x="2259.6" y="3182.8"><tspan x="2259.6">(1)加大对风险小的存单质押贷款的宣传力度</tspan><tspan x="2259.6" dy="14.4">，确保随到随办。</tspan></text></g>
<g id="b2-s3-4b"><text class="t" x="2259.6" y="3246.9"><tspan x="2259.6">(2)走访行政事业单位，摸清具有贷款需求而</tspan><tspan x="2259.6" dy="14.4">又有还款潜力人员状况，主动出击。扩大信用</tspan><tspan x="2259.6" dy="14.4">贷款市常</tspan></text></g>
<g id="b2-s3-4c"><text class="t" x="2259.6" y="3325.2"><tspan x="2259.6">(3)目前，我市的汽车消费贷款方兴未艾，中</tspan><tspan x="2259.6" dy="14.4">行已捷足先登，我们应迎头赶上，加强汽车销</tspan><tspan x="2259.6" dy="14.4">售商的联合，打出我行的品牌。</tspan></text></g>
<g id="b2-s3-5"><text class="t" x="2003" y="3422.4"><tspan x="2003">5、加强客户关系的维护。客户分类管理是客</tspan><tspan x="2003" dy="14.4">户经理从事客户管理的主要资料。按投入与产</tspan><tspan x="2003" dy="14.4">出相匹配的原则，对不同的客户实施不同的管</tspan><tspan x="2003" dy="14.4">理策略，有的放矢。当今金融市场的竞争尤为</tspan><tspan x="2003" dy="14.4">激烈，各种不确定因素的存在，要求我们不断</tspan><tspan x="2003" dy="14.4">加强与客户的联络，与客户之间建立深厚的感</tspan><tspan x="2003" dy="14.4">情，只有这样，才能保证营销工作旺盛的生命</tspan><tspan x="2003" dy="14.4">力。我们的事业才会发达。</tspan></text></g>
<g id="b2-s3-5a"><text class="t" x="2259.6" y="3404"><tspan x="2259.6">各位领导、各位评委，我参加竞聘的岗位是个</tspan><tspan x="2259.6" dy="14.4">人客户经理，但其它类客户经理只要有需要，</tspan><tspan x="2259.6" dy="14.4">我愿意全面奉献自己。我来参加这次竞聘是职</tspan><tspan x="2259.6" dy="14.4">责感和使命感的驱使。不管成功与否，我将一</tspan><tspan x="2259.6" dy="14.4">如既往为工行的发展发挥自己的光和热。</tspan></text></g>
<g id="b2-s3-5b"><text class="t" x="2259.6" y="3511.3">谢谢大家!</text></g>
</svg>
